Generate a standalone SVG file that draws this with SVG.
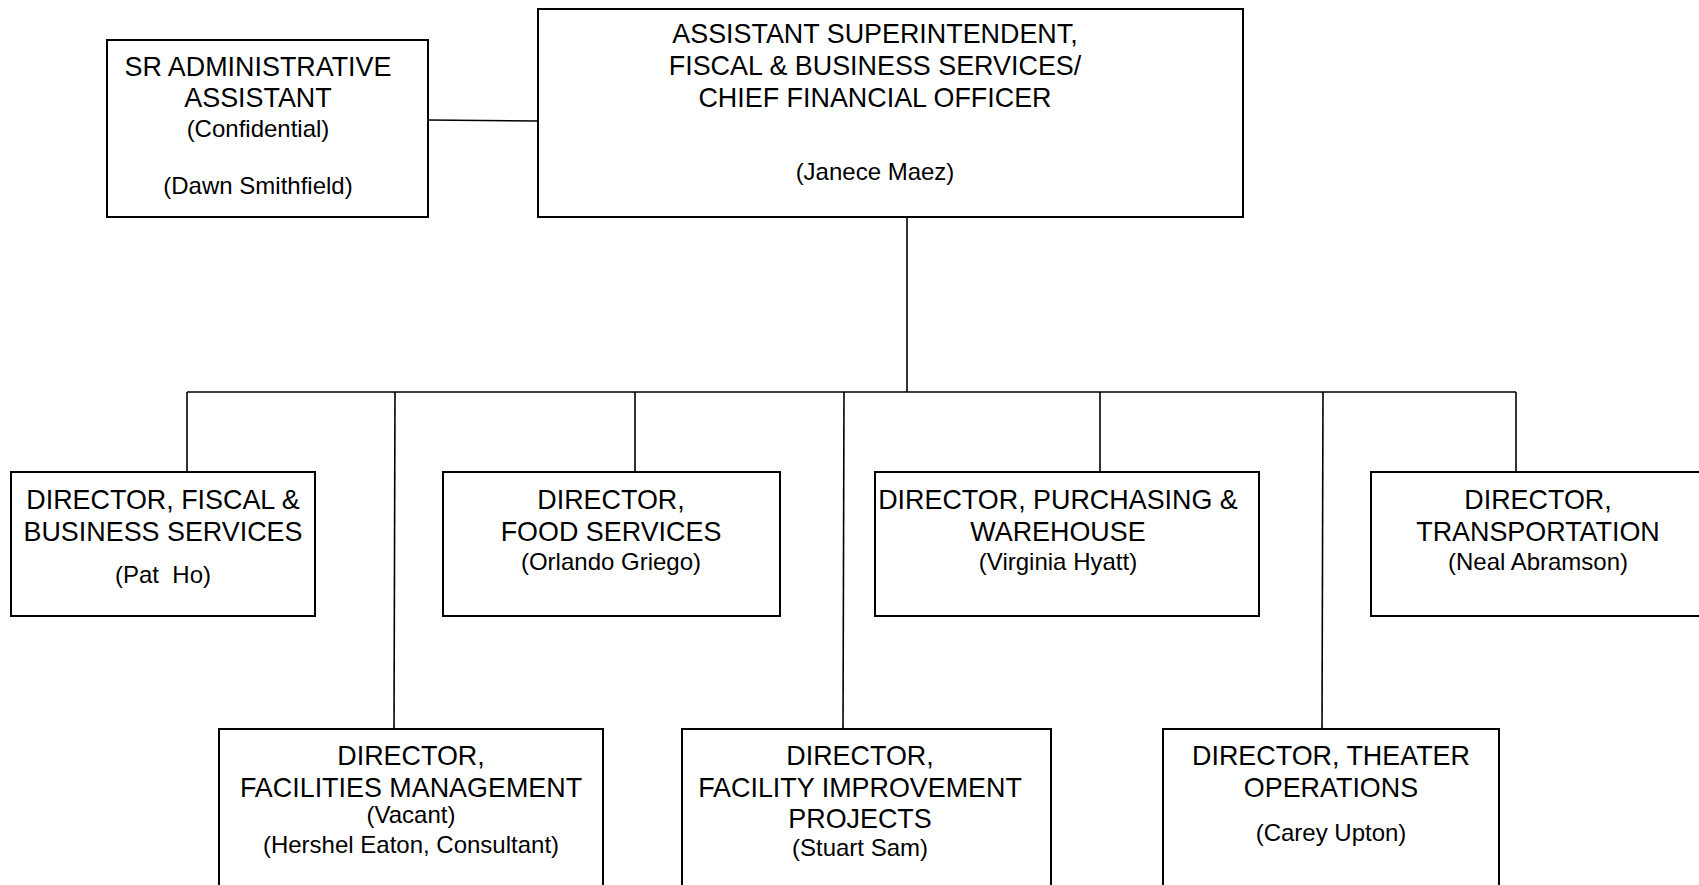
<svg xmlns="http://www.w3.org/2000/svg" width="1699" height="885" viewBox="0 0 1699 885">
<style>
.box{fill:#fff;stroke:#000;stroke-width:2}
.ln{fill:none;stroke:#000;stroke-width:1.6}
text{font-family:"Liberation Sans",Arial,sans-serif;fill:#000;text-anchor:middle}
.b{font-size:26.9px}
.s{font-size:24px}
</style>
<rect width="1699" height="885" fill="#fff"/>
<g id="connectors">
<line class="ln" x1="428" y1="120" x2="538" y2="121"/>
<line class="ln" x1="907" y1="217" x2="907" y2="392"/>
<line class="ln" x1="187" y1="392" x2="1516" y2="392"/>
<line class="ln" x1="187" y1="392" x2="187" y2="472"/>
<line class="ln" x1="635" y1="392" x2="635" y2="472"/>
<line class="ln" x1="1100" y1="392" x2="1100" y2="472"/>
<line class="ln" x1="1516" y1="392" x2="1516" y2="472"/>
<line class="ln" x1="395" y1="392" x2="394" y2="729"/>
<line class="ln" x1="844" y1="392" x2="843" y2="729"/>
<line class="ln" x1="1323" y1="392" x2="1322" y2="729"/>
</g>
<g id="sr-admin">
<rect class="box" x="107" y="40" width="321" height="177"/>
<text class="b" x="258" y="75.5">SR ADMINISTRATIVE</text>
<text class="b" x="258" y="107">ASSISTANT</text>
<text class="s" x="258" y="137">(Confidential)</text>
<text class="s" x="258" y="194">(Dawn Smithfield)</text>
</g>
<g id="asst-supt">
<rect class="box" x="538" y="9" width="705" height="208"/>
<text class="b" x="875" y="43">ASSISTANT SUPERINTENDENT,</text>
<text class="b" x="875" y="75">FISCAL &amp; BUSINESS SERVICES/</text>
<text class="b" x="875" y="106.5">CHIEF FINANCIAL OFFICER</text>
<text class="s" x="875" y="180">(Janece Maez)</text>
</g>
<g id="fiscal">
<rect class="box" x="11" y="472" width="304" height="144"/>
<text class="b" x="163" y="508.5">DIRECTOR, FISCAL &amp;</text>
<text class="b" x="163" y="541">BUSINESS SERVICES</text>
<text class="s" x="163" y="583" xml:space="preserve">(Pat  Ho)</text>
</g>
<g id="food">
<rect class="box" x="443" y="472" width="337" height="144"/>
<text class="b" x="611" y="508.5">DIRECTOR,</text>
<text class="b" x="611" y="541">FOOD SERVICES</text>
<text class="s" x="611" y="570">(Orlando Griego)</text>
</g>
<g id="purchasing">
<rect class="box" x="875" y="472" width="384" height="144"/>
<text class="b" x="1058" y="508.5">DIRECTOR, PURCHASING &amp;</text>
<text class="b" x="1058" y="541">WAREHOUSE</text>
<text class="s" x="1058" y="570">(Virginia Hyatt)</text>
</g>
<g id="transportation">
<rect class="box" x="1371" y="472" width="334" height="144"/>
<text class="b" x="1538" y="508.5">DIRECTOR,</text>
<text class="b" x="1538" y="541">TRANSPORTATION</text>
<text class="s" x="1538" y="570">(Neal Abramson)</text>
</g>
<g id="facilities">
<rect class="box" x="219" y="729" width="384" height="170"/>
<text class="b" x="411" y="765">DIRECTOR,</text>
<text class="b" x="411" y="796.5">FACILITIES MANAGEMENT</text>
<text class="s" x="411" y="823">(Vacant)</text>
<text class="s" x="411" y="853">(Hershel Eaton, Consultant)</text>
</g>
<g id="improvement">
<rect class="box" x="682" y="729" width="369" height="170"/>
<text class="b" x="860" y="765">DIRECTOR,</text>
<text class="b" x="860" y="796.5">FACILITY IMPROVEMENT</text>
<text class="b" x="860" y="828">PROJECTS</text>
<text class="s" x="860" y="856">(Stuart Sam)</text>
</g>
<g id="theater">
<rect class="box" x="1163" y="729" width="336" height="170"/>
<text class="b" x="1331" y="765">DIRECTOR, THEATER</text>
<text class="b" x="1331" y="797">OPERATIONS</text>
<text class="s" x="1331" y="841">(Carey Upton)</text>
</g>
</svg>
